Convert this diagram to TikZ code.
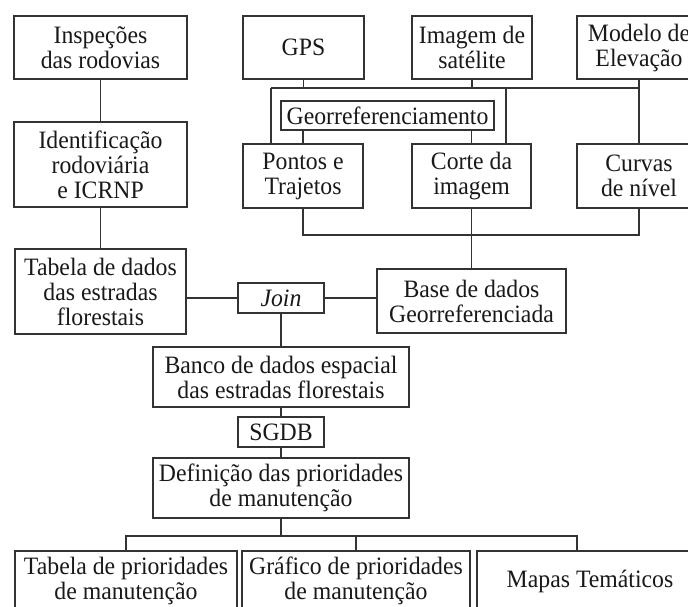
\documentclass[tikz,border=0pt]{standalone}
\usepackage{fontspec}
\setmainfont{Liberation Serif}[FakeStretch=0.95]

\tikzset{
  caixa/.style={draw=black!80, line width=1.8pt, align=center, inner sep=0pt,
    text=black!90, font=\fontsize{25}{25}\selectfont},
  liga/.style={draw=black!80, line width=1.8pt},
}

\begin{document}
\begin{tikzpicture}[x=1pt, y=-1pt]
\clip (0,0) rectangle (688,606);
\fill[white] (0,0) rectangle (688,606);

% entradas
\node[caixa, minimum width=173pt, minimum height=63pt] (insp) at (100.5,47.5) {Inspeções\\das rodovias};
\node[caixa, minimum width=173pt, minimum height=85pt] (ident) at (100.5,164.5) {Identificação\\rodoviária\\e ICRNP};
\node[caixa, minimum width=171pt, minimum height=85pt] (tabdados) at (100.5,291.5) {Tabela de dados\\das estradas\\florestais};
\node[caixa, minimum width=121pt, minimum height=63pt] (gps) at (303.5,47.5) {GPS};
\node[caixa, minimum width=120pt, minimum height=63pt] (imagem) at (472,47.5) {Imagem de\\satélite};
\node[caixa, minimum width=124pt, minimum height=63pt] (modelo) at (639,47.5) {Modelo de\\Elevação};
\node[caixa, minimum width=213pt, minimum height=29pt] (georef) at (387.5,115.5) {Georreferenciamento};
\node[caixa, minimum width=120pt, minimum height=64pt] (pontos) at (303,176) {Pontos e\\Trajetos};
\node[caixa, minimum width=119pt, minimum height=64pt] (corte) at (471.5,176) {Corte da\\imagem};
\node[caixa, minimum width=124pt, minimum height=64pt] (curvas) at (639,176) {Curvas\\de nível};
\node[caixa, minimum width=189pt, minimum height=64pt] (base) at (471.5,301) {Base de dados\\Georreferenciada};
\node[caixa, minimum width=86pt, minimum height=30pt] (join) at (281,298) {\itshape Join};
\node[caixa, minimum width=256pt, minimum height=60pt] (banco) at (281,377) {Banco de dados espacial\\das estradas florestais};
\node[caixa, minimum width=86pt, minimum height=30pt] (sgdb) at (281,432) {SGDB};
\node[caixa, minimum width=256pt, minimum height=60pt] (defin) at (281,488) {Definição das prioridades\\de manutenção};
% saidas
\node[caixa, minimum width=222pt, minimum height=60pt] (tabprio) at (126,581) {Tabela de prioridades\\de manutenção};
\node[caixa, minimum width=228pt, minimum height=60pt] (graf) at (356,581) {Gráfico de prioridades\\de manutenção};
\node[caixa, minimum width=226pt, minimum height=60pt] (mapas) at (590,581) {Mapas Temáticos};

\coordinate (bA) at (271,88);
\coordinate (bC) at (506,88);
\coordinate (bD) at (303,235);
\coordinate (bE) at (126,536);
\coordinate (bF) at (577,536);

\draw[liga] (insp) -- (ident);
\draw[liga] (ident) -- (tabdados);
\draw[liga] (gps) -- (gps |- bA);
\draw[liga] (imagem) -- (imagem |- bA);
\draw[liga] (modelo) -- (curvas);
\draw[liga] (bA) -- (modelo.south |- bA);
\draw[liga] (bA) -- (bA |- pontos.north);
\draw[liga] (bC) -- (bC |- corte.north);
\draw[liga] (pontos.north) -- (pontos.north |- georef.south);
\draw[liga] (corte.north) -- (corte.north |- georef.south);
\draw[liga] (pontos) -- (pontos |- bD) -- (curvas |- bD) -- (curvas);
\draw[liga] (corte) -- (base);
\draw[liga] (tabdados.east |- join.west) -- (join.west);
\draw[liga] (join.east) -- (join.east -| base.west);
\draw[liga] (join) -- (banco);
\draw[liga] (banco) -- (sgdb);
\draw[liga] (sgdb) -- (defin);
\draw[liga] (defin) -- (defin |- bE);
\draw[liga] (tabprio) -- (tabprio |- bE) -- (bF) -- (bF |- mapas.north);
\draw[liga] (graf) -- (graf |- bE);
\end{tikzpicture}
\end{document}
